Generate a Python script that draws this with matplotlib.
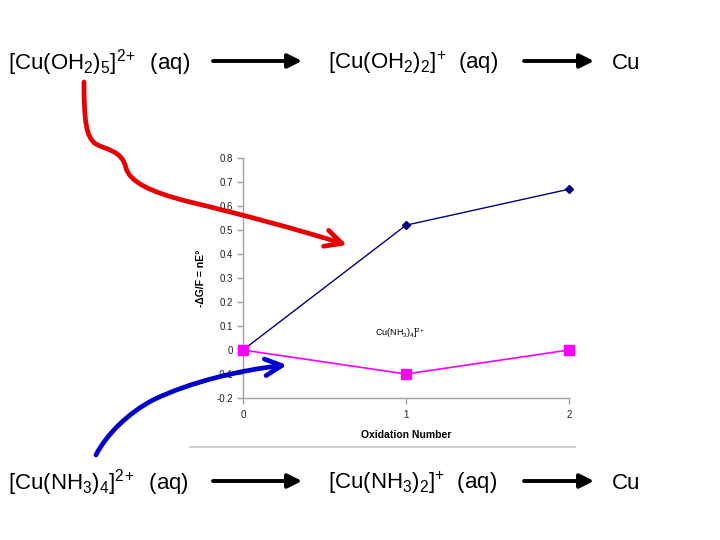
import matplotlib
matplotlib.use("Agg")
import matplotlib.pyplot as plt
from matplotlib.path import Path
from matplotlib.patches import FancyArrowPatch
from matplotlib.lines import Line2D

plt.rcParams['font.family'] = ['Liberation Sans', 'DejaVu Sans']
plt.rcParams['mathtext.fontset'] = 'custom'
plt.rcParams['mathtext.rm'] = 'Liberation Sans'
plt.rcParams['mathtext.it'] = 'Liberation Sans'
plt.rcParams['mathtext.bf'] = 'Liberation Sans:bold'
plt.rcParams['mathtext.default'] = 'regular'

# data
oxidation = [0, 1, 2]
aqua_values = [0.0, 0.52, 0.67]
ammine_values = [0.0, -0.1, 0.0]
y_ticks = [-0.2, -0.1, 0, 0.1, 0.2, 0.3, 0.4, 0.5, 0.6, 0.7, 0.8]
y_tick_labels = ['-0.2', '-0.1', '0', '0.1', '0.2', '0.3', '0.4', '0.5', '0.6', '0.7', '0.8']
x_ticks = [0, 1, 2]
top_species = [r'[Cu(OH$_2$)$_5$]$^{2\!+}$  (aq)', r'[Cu(OH$_2$)$_2$]$^{+}$  (aq)', 'Cu']
bottom_species = [r'[Cu(NH$_3$)$_4$]$^{2\!+}$  (aq)', r'[Cu(NH$_3$)$_2$]$^{+}$  (aq)', 'Cu']

W, H = 720, 540
fig = plt.figure(figsize=(7.2, 5.4), dpi=100)
fig.patch.set_facecolor('white')

ax = fig.add_axes([243 / W, 1 - 398 / H, (569 - 243) / W, (398 - 158) / H])
ax.plot(oxidation, aqua_values, color='#000080', lw=1.0, marker='D', ms=4.5,
        clip_on=False, zorder=3)
ax.plot(oxidation, ammine_values, color='#ff00ff', lw=1.2, marker='s', ms=7,
        clip_on=False, zorder=3)
ax.set_xlim(0, 2)
ax.set_ylim(-0.2, 0.8)
ax.set_yticks(y_ticks)
ax.set_yticklabels(y_tick_labels)
ax.set_xticks(x_ticks)
for s in ['top', 'right']:
    ax.spines[s].set_visible(False)
for s in ['left', 'bottom']:
    ax.spines[s].set_color('#a0a0a0')
    ax.spines[s].set_linewidth(1.0)
ax.tick_params(axis='both', direction='out', length=4, width=1, color='#a0a0a0',
               labelsize=7, labelcolor='#222222', pad=3)
ax.tick_params(axis='x', pad=5)
ax.set_xlabel('Oxidation Number', fontsize=7.5, fontweight='bold', labelpad=7)
ax.set_ylabel('-\u0394G/F = nE\u00b0', fontsize=7.5, fontweight='bold', labelpad=8)
ax.text(0.81, 0.07, r'Cu(NH$_3$)$_4$]$^{2\!+}$', fontsize=6.5, va='center', ha='left')
ax.patch.set_alpha(0)

# overlay in pixel coords
ov = fig.add_axes([0, 0, 1, 1], zorder=5)
ov.set_xlim(0, W)
ov.set_ylim(H, 0)
ov.axis('off')
ov.patch.set_alpha(0)

# chart border line
ov.add_line(Line2D([190, 575], [447, 447], color='#c8c8c8', lw=1.2))

# species text
xs = [8, 328, 612]
for x, t in zip(xs, top_species):
    ov.text(x, 69, t, fontsize=16, va='baseline', ha='left')
for x, t in zip(xs, bottom_species):
    ov.text(x, 489, t, fontsize=16, va='baseline', ha='left')

# black reaction arrows
for y in (61, 481):
    for x0, x1 in ((213, 302), (524, 594)):
        ov.annotate('', xy=(x1, y), xytext=(x0, y),
                    arrowprops=dict(arrowstyle='-|>,head_length=0.7,head_width=0.35',
                                    color='black', lw=2.8, mutation_scale=12,
                                    shrinkA=0, shrinkB=0))

# red curved arrow
red_verts = [(84, 82), (84, 120), (86, 138), (96, 144),
             (106, 150), (122, 150), (126, 168),
             (130, 182), (150, 192), (190, 202),
             (240, 214), (300, 230), (347, 245)]
red_codes = [Path.MOVETO] + [Path.CURVE4] * 12
red = FancyArrowPatch(path=Path(red_verts, red_codes),
                      arrowstyle='->,head_length=1.0,head_width=0.5',
                      mutation_scale=12, color='#e80000', lw=3.4)
ov.add_patch(red)

# blue curved arrow
blue_verts = [(96, 455), (106, 435), (128, 413), (153, 400),
              (190, 382), (240, 370), (287, 365)]
blue_codes = [Path.MOVETO] + [Path.CURVE4] * 6
blue = FancyArrowPatch(path=Path(blue_verts, blue_codes),
                       arrowstyle='->,head_length=1.0,head_width=0.5',
                       mutation_scale=12, color='#0000cc', lw=3.4)
ov.add_patch(blue)

fig.savefig('out.png', dpi=100, facecolor='white')
